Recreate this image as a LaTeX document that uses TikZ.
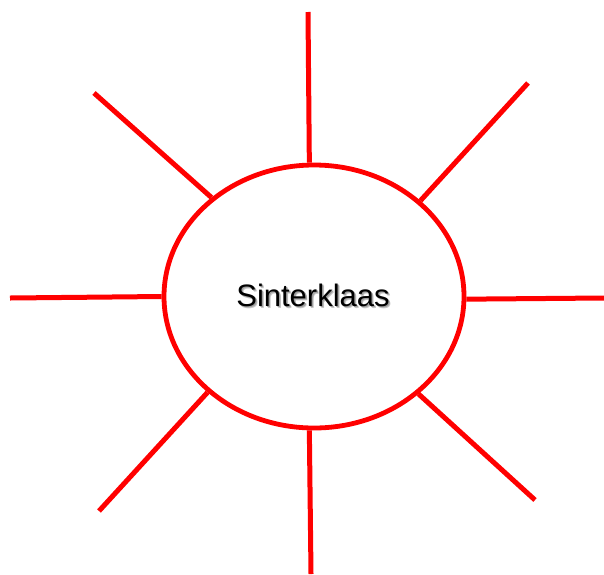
\documentclass[tikz,border=0pt]{standalone}
\usepackage{fontspec}
\setmainfont{Liberation Sans}
\usetikzlibrary{shapes.geometric}
\newcommand{\shadowtext}[1]{\makebox[0pt][l]{\hspace{2pt}\raisebox{-2pt}{\textcolor{black!22}{#1}}}\makebox[0pt][l]{\hspace{1.3pt}\raisebox{-1.3pt}{\textcolor{black!38}{#1}}}#1}
\tikzset{
  ray/.style={draw=red, line width=5pt, line cap=butt},
  sunbody/.style={ellipse, draw=red, line width=4.8pt, minimum width=300pt, minimum height=263pt, inner sep=0pt},
  lbl/.style={font=\fontsize{31}{36}\selectfont, inner sep=0pt, anchor=base}
}
\begin{document}
\begin{tikzpicture}[x=1pt,y=-1pt]
\useasboundingbox (0,0) rectangle (604,574);
\node[sunbody] (e) at (314,296.5) {};
\coordinate (ct) at (308,12);
\coordinate (cb) at (311,574);
\coordinate (cl) at (10,298);
\coordinate (cr) at (604,298);
\coordinate (cul) at (94,93);
\coordinate (cur) at (528,83);
\coordinate (cll) at (99,511);
\coordinate (clr) at (535,500);
\draw[ray] (e.92.6) -- (ct);
\draw[ray] (e.268.7) -- (cb);
\draw[ray] (e.180.6) -- (cl);
\draw[ray] (e.359.4) -- (cr);
\draw[ray] (e.136.8) -- (cul);
\draw[ray] (e.42) -- (cur);
\draw[ray] (e.222.4) -- (cll);
\draw[ray] (e.317.4) -- (clr);
\node[lbl] (t) at (313,306) {\shadowtext{Sinterklaas}};
\end{tikzpicture}
\end{document}
